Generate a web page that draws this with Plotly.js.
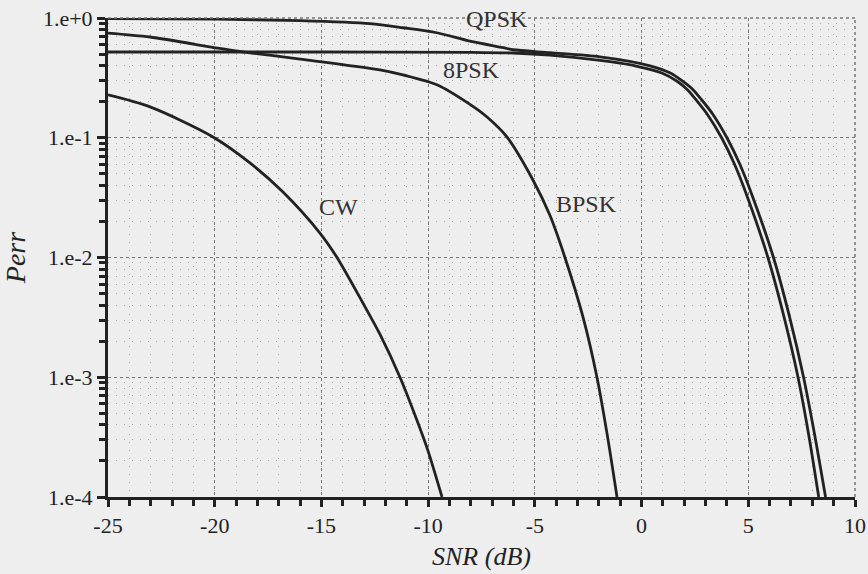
<!DOCTYPE html>
<html>
<head>
<meta charset="utf-8">
<script src="https://cdn.plot.ly/plotly-3.0.1.min.js"></script>
<style>
  html, body { margin: 0; padding: 0; background: #eeeeee; }
  #chart { width: 868px; height: 574px; }
</style>
</head>
<body>
<div id="chart"></div>
<script>
// ---- data ----
const snrQPSK  = [-25, -19.9, -16.0, -12.72, -11.18, -9.59, -8.04, -6.49, -6.02, -4.29, -1.95, 0.395, 1.35, 1.94, 2.42, 2.8, 3.33, 4.0, 4.6, 5.22, 6.18, 6.94, 7.59, 8.13, 8.62];
const perrQPSK = [0.99, 0.978, 0.949, 0.896, 0.829, 0.753, 0.64, 0.565, 0.543, 0.513, 0.474, 0.399, 0.347, 0.295, 0.251, 0.209, 0.158, 0.1, 0.0603, 0.0316, 0.01, 0.00316, 0.001, 3.16e-4, 1e-4];

const snr8PSK  = [-25, -15, -8, -6.0, -4.3, -1.95, -0.305, 0.95, 1.68, 2.16, 2.54, 3.07, 3.75, 4.35, 4.97, 5.92, 6.68, 7.33, 7.85, 8.3];
const perr8PSK = [0.52, 0.52, 0.517, 0.51, 0.49, 0.442, 0.399, 0.347, 0.295, 0.251, 0.209, 0.158, 0.1, 0.0603, 0.0316, 0.01, 0.00316, 0.001, 3.16e-4, 1e-4];

const snrBPSK  = [-25, -23.03, -19.89, -18.82, -16.0, -12.26, -11.18, -9.59, -8.04, -7.24, -6.31, -5.09, -4.29, -3.59, -2.74, -2.09, -1.62, -1.15];
const perrBPSK = [0.749, 0.694, 0.561, 0.525, 0.454, 0.369, 0.335, 0.277, 0.19, 0.149, 0.1016, 0.0444, 0.0224, 0.01, 0.00316, 0.001, 3.4e-4, 1e-4];

const snrCW  = [-25, -23.03, -20.08, -18.35, -16.80, -15.07, -14.27, -13.05, -12.26, -11.32, -10.52, -10.01, -9.35];
const perrCW = [0.228, 0.181, 0.1016, 0.0617, 0.0352, 0.016, 0.01, 0.00415, 0.00229, 0.001, 4.35e-4, 2.44e-4, 1e-4];

const yTickVals = [1e-4, 1e-3, 1e-2, 1e-1, 1];
const yTickText = ['1.e-4', '1.e-3', '1.e-2', '1.e-1', '1.e+0'];
const xTickVals = [-25, -20, -15, -10, -5, 0, 5, 10];
const xTickText = ['-25', '-20', '-15', '-10', '-5', '0', '5', '10'];

const labelNames = ['QPSK', '8PSK', 'CW', 'BPSK'];
const labelSNR   = [-6.77, -7.99, -14.22, -2.60];
const labelPerr  = [0.987, 0.369, 0.0264, 0.0279];

// minor tick positions (2..9 in each decade) for the log axis
const yMinorVals = [];
for (let e = -4; e < 0; e++) for (let m = 2; m <= 9; m++) yMinorVals.push(m * Math.pow(10, e));

// ---- styling ----
const ink = '#222222';
const lineStyle = { color: ink, width: 2.8, shape: 'spline', smoothing: 0.8 };

function curve(x, y) {
  return { x: x, y: y, type: 'scatter', mode: 'lines', line: lineStyle, showlegend: false };
}

const data = [
  curve(snrQPSK, perrQPSK),
  curve(snr8PSK, perr8PSK),
  curve(snrBPSK, perrBPSK),
  curve(snrCW, perrCW)
];

const annotations = labelNames.map((t, i) => ({
  x: labelSNR[i], y: Math.log10(labelPerr[i]), xref: 'x', yref: 'y',
  text: t, showarrow: false,
  font: { family: 'Liberation Serif', size: 24, color: '#333333' }
}));

const layout = {
  width: 868, height: 574,
  margin: { l: 108, r: 13, t: 18, b: 77 },
  paper_bgcolor: '#eeeeee',
  plot_bgcolor: '#eeeeee',
  showlegend: false,
  xaxis: {
    range: [-25, 10],
    tickmode: 'array', tickvals: xTickVals, ticktext: xTickText,
    ticks: 'outside', ticklen: 7, tickwidth: 3, tickcolor: ink,
    showline: true, linewidth: 3, linecolor: ink,
    showgrid: true, gridcolor: '#777777', gridwidth: 1, griddash: 'dot',
    zeroline: false,
    tickfont: { family: 'serif', size: 22, color: '#222222' },
    minor: { dtick: 1, ticks: 'outside', ticklen: 6, tickwidth: 3, tickcolor: ink,
             showgrid: true, gridcolor: '#a8a8a8', gridwidth: 1, griddash: '1px,7px' },
    title: { text: 'SNR (dB)', standoff: 10,
             font: { family: 'Times New Roman', size: 26, style: 'italic', color: '#222222' } },
    automargin: false
  },
  yaxis: {
    type: 'log',
    range: [-4, 0],
    tickmode: 'array', tickvals: yTickVals, ticktext: yTickText,
    ticks: 'outside', ticklen: 8, tickwidth: 3, tickcolor: ink,
    showline: true, linewidth: 3, linecolor: ink,
    showgrid: true, gridcolor: '#777777', gridwidth: 1, griddash: 'dot',
    zeroline: false,
    tickfont: { family: 'serif', size: 22, color: '#222222' },
    minor: { tickmode: 'array', tickvals: yMinorVals, ticks: 'outside', ticklen: 6, tickwidth: 3, tickcolor: ink,
             showgrid: true, gridcolor: '#a8a8a8', gridwidth: 1, griddash: '1px,7px' },
    title: { text: 'Perr', standoff: 12,
             font: { family: 'Times New Roman', size: 28, style: 'italic', color: '#222222' } },
    automargin: false
  },
  shapes: [
    { type: 'line', xref: 'paper', yref: 'paper', x0: 1, x1: 1, y0: 0, y1: 1,
      line: { color: '#777777', width: 1.5, dash: 'dot' } },
    { type: 'line', xref: 'paper', yref: 'paper', x0: 0, x1: 1, y0: 1, y1: 1,
      line: { color: '#777777', width: 1.5, dash: 'dot' } }
  ],
  annotations: annotations
};

Plotly.newPlot('chart', data, layout, { staticPlot: true });
</script>
</body>
</html>
